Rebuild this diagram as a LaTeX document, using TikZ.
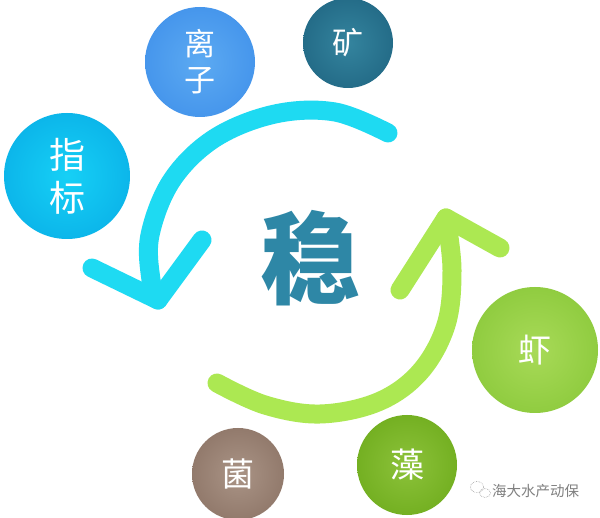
\documentclass[tikz,border=0pt]{standalone}
\usepackage{fontspec}
\newfontfamily\cjk{Noto Sans CJK SC}
\begin{document}
\begin{tikzpicture}[x=1pt,y=-1pt,
  ball/.style={circle, inner sep=0pt, text=white, align=center},
  bigarrow/.style={line width=19pt, line cap=round, line join=round},
]
\useasboundingbox (0,0) rectangle (600,518);
\fill[white] (0,0) rectangle (600,518);
\definecolor{cyanarc}{RGB}{30,218,242}
\definecolor{greenarc}{RGB}{172,232,82}
\definecolor{wen}{RGB}{46,135,166}

% circles
\node[ball, minimum size=126pt, inner color={rgb,255:red,22;green,208;blue,246}, outer color={rgb,255:red,12;green,182;blue,234},
  font=\cjk\fontsize{36}{43}\selectfont] (zhibiao) at (67,176) {指\\标};
\node[ball, minimum size=110pt, inner color={rgb,255:red,92;green,170;blue,242}, outer color={rgb,255:red,70;green,150;blue,236},
  font=\cjk\fontsize{31}{36}\selectfont] (lizi) at (200,62) {离\\子};
\node[ball, minimum size=90pt, inner color={rgb,255:red,52;green,132;blue,158}, outer color={rgb,255:red,36;green,108;blue,136},
  font=\cjk\fontsize{31}{36}\selectfont] (kuang) at (348,43) {矿};
\node[ball, minimum size=126pt, inner color={rgb,255:red,168;green,218;blue,88}, outer color={rgb,255:red,144;green,204;blue,64},
  font=\cjk\fontsize{33}{38}\selectfont] (xia) at (535,350) {虾};
\node[ball, minimum size=100pt, inner color={rgb,255:red,140;green,194;blue,58}, outer color={rgb,255:red,116;green,176;blue,34},
  font=\cjk\fontsize{34}{38}\selectfont] (zao) at (407,465) {藻};
\node[ball, minimum size=92pt, inner color={rgb,255:red,170;green,148;blue,134}, outer color={rgb,255:red,146;green,122;blue,108},
  font=\cjk\fontsize{33}{38}\selectfont] (jun) at (238,474) {菌};

% cyan arrow
\coordinate (cS) at (388,133);
\coordinate (cT) at (158,300);
\coordinate (cL) at (92,268);
\coordinate (cR) at (202,240);
\draw[bigarrow, cyanarc] plot[smooth, tension=0.6] coordinates {(cS) (335,112) (275,114) (215,138) (172,180) (150,235) (151,280) (cT)};
\draw[bigarrow, cyanarc] (cL) -- (cT) -- (cR);

% green arrow
\coordinate (gS) at (217,383);
\coordinate (gT) at (446,218);
\coordinate (gL) at (400,290);
\coordinate (gR) at (500,248);
\draw[bigarrow, greenarc] plot[smooth, tension=0.6] coordinates {(gS) (265,405) (320,414) (378,402) (420,372) (446,325) (452,270) (gT)};
\draw[bigarrow, greenarc] (gL) -- (gT) -- (gR);

% center character
\node[text=wen, font=\cjk\bfseries\fontsize{100}{100}\selectfont] (wen) at (310,258) {稳};

% watermark
\node[text=black!50, font=\cjk\fontsize{14.5}{15}\selectfont, anchor=west, inner sep=0pt] (wm) at (492,491) {海大水产动保};
\draw[black!40, line width=0.6pt, densely dotted] (477,487) ellipse (6.5pt and 5.5pt);
\draw[black!40, line width=0.6pt, densely dotted] (485,493) ellipse (5.5pt and 4.5pt);
\end{tikzpicture}
\end{document}
